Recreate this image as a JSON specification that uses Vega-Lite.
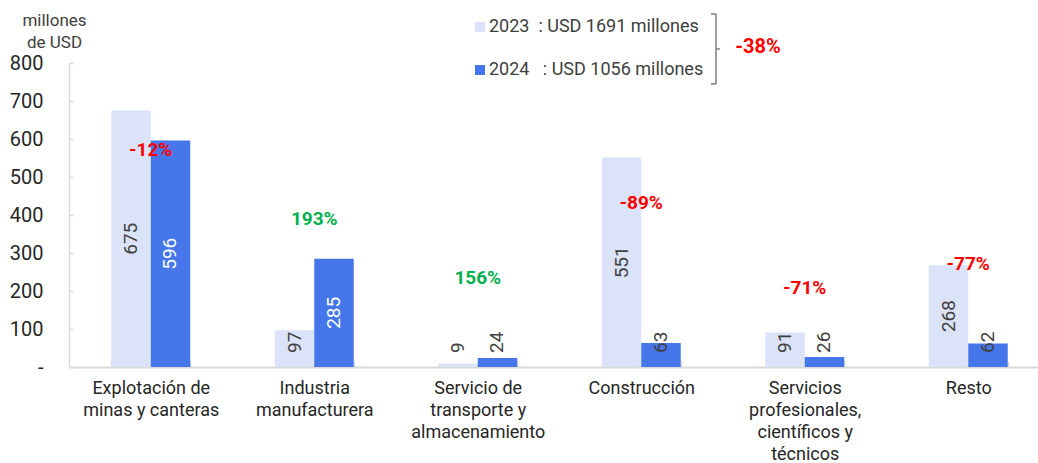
{
  "$schema": "https://vega.github.io/schema/vega-lite/v6.json",
  "width": 969,
  "height": 304,
  "autosize": "none",
  "padding": {"left": 69, "top": 63, "right": 0, "bottom": 96},
  "background": "white",
  "config": {"view": {"stroke": null}, "font": "Roboto"},
  "datasets": {
    "ied": [
      {"sector": "Explotación de minas y canteras", "year": "2023", "value": 675},
      {"sector": "Explotación de minas y canteras", "year": "2024", "value": 596},
      {"sector": "Industria manufacturera", "year": "2023", "value": 97},
      {"sector": "Industria manufacturera", "year": "2024", "value": 285},
      {"sector": "Servicio de transporte y almacenamiento", "year": "2023", "value": 9},
      {"sector": "Servicio de transporte y almacenamiento", "year": "2024", "value": 24},
      {"sector": "Construcción", "year": "2023", "value": 551},
      {"sector": "Construcción", "year": "2024", "value": 63},
      {"sector": "Servicios profesionales, científicos y técnicos", "year": "2023", "value": 91},
      {"sector": "Servicios profesionales, científicos y técnicos", "year": "2024", "value": 26},
      {"sector": "Resto", "year": "2023", "value": 268},
      {"sector": "Resto", "year": "2024", "value": 62}
    ],
    "var": [
      {"sector": "Explotación de minas y canteras", "pct": "-12%", "pos": 571, "trend": "baja"},
      {"sector": "Industria manufacturera", "pct": "193%", "pos": 389, "trend": "sube"},
      {"sector": "Servicio de transporte y almacenamiento", "pct": "156%", "pos": 234, "trend": "sube"},
      {"sector": "Construcción", "pct": "-89%", "pos": 431, "trend": "baja"},
      {"sector": "Servicios profesionales, científicos y técnicos", "pct": "-71%", "pos": 208, "trend": "baja"},
      {"sector": "Resto", "pct": "-77%", "pos": 271, "trend": "baja"}
    ],
    "bracket": [
      {"x1": 0.6625, "x2": 0.6677, "y1": 929, "y2": 929},
      {"x1": 0.6677, "x2": 0.6677, "y1": 745, "y2": 929},
      {"x1": 0.6625, "x2": 0.6677, "y1": 745, "y2": 745},
      {"x1": 0.6677, "x2": 0.6718, "y1": 837, "y2": 837}
    ],
    "note": [
      {"x": 0.711, "y": 841, "label": "-38%"}
    ]
  },
  "layer": [
    {
      "data": {"name": "ied"},
      "layer": [
        {
          "mark": {"type": "bar"},
          "encoding": {
            "x": {
              "field": "sector", "type": "nominal", "title": null,
              "scale": {
                "domain": ["Explotación de minas y canteras", "Industria manufacturera", "Servicio de transporte y almacenamiento", "Construcción", "Servicios profesionales, científicos y técnicos", "Resto"],
                "range": [0, 981], "paddingInner": 0.517, "paddingOuter": 0.2585
              },
              "axis": {
                "domainColor": "#d9d9d9", "domainWidth": 2,
                "tickColor": "#d9d9d9", "tickWidth": 1.5, "tickSize": -6, "tickBand": "extent",
                "labelFontSize": 18, "labelColor": "#262626", "labelFont": "Roboto",
                "labelAngle": 0, "labelPadding": 18, "labelLineHeight": 22, "labelBaseline": "top",
                "labelExpr": "datum.value == 'Explotación de minas y canteras' ? ['Explotación de', 'minas y canteras'] : datum.value == 'Industria manufacturera' ? ['Industria', 'manufacturera'] : datum.value == 'Servicio de transporte y almacenamiento' ? ['Servicio de', 'transporte y', 'almacenamiento'] : datum.value == 'Servicios profesionales, científicos y técnicos' ? ['Servicios', 'profesionales,', 'científicos y', 'técnicos'] : datum.label"
              }
            },
            "xOffset": {"field": "year", "type": "nominal", "scale": {"paddingInner": 0, "paddingOuter": 0}},
            "y": {
              "field": "value", "type": "quantitative",
              "scale": {"domain": [0, 800], "nice": false},
              "axis": {
                "values": [0, 100, 200, 300, 400, 500, 600, 700, 800],
                "tickCount": 9,
                "labelOverlap": false,
                "labelExpr": "datum.value == 0 ? '-' : datum.label",
                "grid": false,
                "domainColor": "#d9d9d9", "domainWidth": 1.5,
                "tickColor": "#d9d9d9", "tickWidth": 1.5, "tickSize": -4,
                "labelFontSize": 20, "labelColor": "#262626", "labelFont": "Roboto", "labelPadding": 30,
                "title": ["millones", "de USD"],
                "titleAngle": 0, "titleAlign": "center", "titleBaseline": "alphabetic",
                "titleX": -15, "titleY": -38, "titleFontSize": 17, "titleFontWeight": "normal",
                "titleColor": "#404040", "titleFont": "Roboto", "titleLineHeight": 22
              }
            },
            "color": {
              "field": "year", "type": "nominal",
              "scale": {"domain": ["2023", "2024"], "range": ["#dae3f8", "#4677ea"]},
              "legend": {
                "title": null, "orient": "none", "legendX": 402, "legendY": -45,
                "direction": "vertical", "symbolType": "square", "symbolSize": 100,
                "symbolStrokeWidth": 0, "labelFontSize": 18, "labelColor": "#404040",
                "labelFont": "Roboto", "labelOffset": 0, "rowPadding": 25, "labelLimit": 400,
                "labelExpr": "datum.label == '2023' ? '2023\u00a0 : USD 1691 millones' : '2024\u00a0\u00a0 : USD 1056 millones'"
              }
            }
          }
        },
        {
          "transform": [
            {"filter": "datum.value >= 100"},
            {"calculate": "datum.value / 2", "as": "mid"}
          ],
          "mark": {"type": "text", "angle": 270, "align": "center", "baseline": "middle", "fontSize": 19, "font": "Roboto"},
          "encoding": {
            "x": {"field": "sector", "type": "nominal"},
            "xOffset": {"field": "year", "type": "nominal"},
            "y": {"field": "mid", "type": "quantitative"},
            "text": {"field": "value", "type": "quantitative"},
            "color": {"condition": {"test": "datum.year == '2024'", "value": "#ffffff"}, "value": "#404040"}
          }
        },
        {
          "transform": [{"filter": "datum.value < 100"}],
          "mark": {"type": "text", "angle": 270, "align": "left", "baseline": "middle", "fontSize": 19, "font": "Roboto", "color": "#404040"},
          "encoding": {
            "x": {"field": "sector", "type": "nominal"},
            "xOffset": {"field": "year", "type": "nominal"},
            "y": {"datum": 37, "type": "quantitative"},
            "text": {"field": "value", "type": "quantitative"}
          }
        },
        {
          "data": {"name": "var"},
          "mark": {"type": "text", "fontWeight": "bold", "fontSize": 19, "font": "Roboto", "baseline": "middle", "align": "center"},
          "encoding": {
            "x": {"field": "sector", "type": "nominal"},
            "y": {"field": "pos", "type": "quantitative"},
            "text": {"field": "pct"},
            "color": {"field": "trend", "type": "nominal", "scale": {"domain": ["baja", "sube"], "range": ["#ff0000", "#00b050"]}, "legend": null}
          }
        }
      ],
      "resolve": {"scale": {"color": "independent"}}
    },
    {
      "layer": [
        {
          "data": {"name": "bracket"},
          "mark": {"type": "rule", "color": "#7f7f7f", "strokeWidth": 1.5},
          "encoding": {
            "x": {"field": "x1", "type": "quantitative", "scale": {"domain": [0, 1]}, "axis": null},
            "x2": {"field": "x2"},
            "y": {"field": "y1", "type": "quantitative", "scale": {"domain": [0, 800], "nice": false}},
            "y2": {"field": "y2"}
          }
        },
        {
          "data": {"name": "note"},
          "mark": {"type": "text", "fontWeight": "bold", "fontSize": 20, "font": "Roboto", "color": "#ff0000", "align": "center", "baseline": "middle"},
          "encoding": {
            "x": {"field": "x", "type": "quantitative", "scale": {"domain": [0, 1]}, "axis": null},
            "y": {"field": "y", "type": "quantitative", "scale": {"domain": [0, 800], "nice": false}},
            "text": {"field": "label"}
          }
        }
      ]
    }
  ],
  "resolve": {"scale": {"x": "independent"}}
}
